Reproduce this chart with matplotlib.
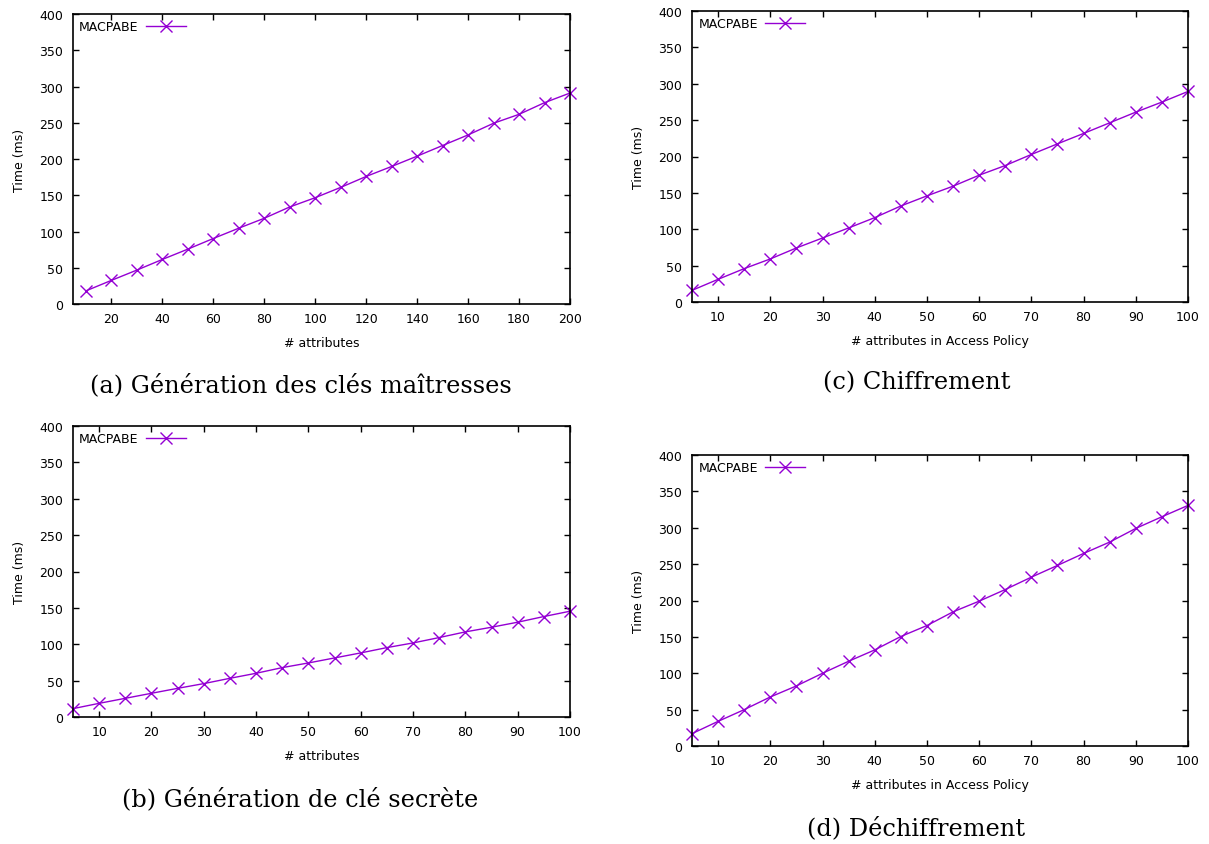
import matplotlib.pyplot as plt

# (a) master key generation
attrs_a = list(range(10, 201, 10))
time_a = [18, 32.5, 46.7, 61.4, 75.6, 90.3, 104.5, 118.2, 133.8, 146.6,
          160.8, 175.9, 189.7, 203.9, 218.6, 233.2, 249.3, 261.6, 277.7, 291]

# (b) secret key generation
attrs_b = list(range(5, 101, 5))
time_b = [11.5, 18.8, 25.7, 32.6, 39.4, 45.9, 53.2, 60.1, 67.9, 74.3,
          81.2, 88.1, 95.4, 101.8, 109.2, 117, 123.4, 130.3, 138.1, 145.4]

# (c) encryption
attrs_c = list(range(5, 101, 5))
time_c = [16, 31.2, 45.9, 59.2, 74.3, 88, 101.8, 116, 132, 145.9,
          159.2, 174.3, 187.6, 202.8, 217.4, 231.7, 246.3, 261, 274.8, 289.4]

# (d) decryption
attrs_d = list(range(5, 101, 5))
time_d = [17, 33.9, 50, 67.4, 82.6, 100, 116.5, 132.1, 150.5, 165.6,
          184.4, 199.1, 215.1, 232.1, 248.2, 264.7, 280.3, 299.1, 315.1, 330.7]

W, H = 1209, 845
COLOR = '#9400D3'

fig = plt.figure(figsize=(W / 100, H / 100), dpi=100)


def box(l, t, r, b):
    return [l / W, 1 - b / H, (r - l) / W, (b - t) / H]


panels = [
    (box(73, 15, 570, 305), attrs_a, time_a, (5, 200), range(20, 201, 20),
     '# attributes', '(a) Génération des clés maîtresses', (301, 385)),
    (box(73, 427, 570, 718), attrs_b, time_b, (5, 100), range(10, 101, 10),
     '# attributes', '(b) Génération de clé secrète', (300, 799)),
    (box(692, 12, 1188, 303), attrs_c, time_c, (5, 100), range(10, 101, 10),
     '# attributes in Access Policy', '(c) Chiffrement', (917, 383)),
    (box(692, 456, 1188, 747), attrs_d, time_d, (5, 100), range(10, 101, 10),
     '# attributes in Access Policy', '(d) Déchiffrement', (916, 828)),
]

for rect, xs, ys, xlim, xticks, xlabel, caption, cap_pos in panels:
    ax = fig.add_axes(rect)
    ax.plot(xs, ys, color=COLOR, lw=1, marker='x', ms=8.5, mew=1,
            label='MACPABE', clip_on=False)
    ax.set_xlim(*xlim)
    ax.set_ylim(0, 400)
    ax.set_xticks(list(xticks))
    ax.set_yticks(range(0, 401, 50))
    ax.tick_params(direction='in', length=4, width=1, top=True, right=True,
                   labelsize=9, colors='black')
    ax.tick_params(axis='y', pad=7)
    ax.tick_params(axis='x', pad=6)
    for s in ax.spines.values():
        s.set_linewidth(1.2)
    ax.set_xlabel(xlabel, fontsize=9, labelpad=8)
    ax.set_ylabel('Time (ms)', fontsize=9, labelpad=10)
    ax.legend(loc='upper left', frameon=False, markerfirst=False, fontsize=9,
              handlelength=3.2, borderaxespad=0.2, handletextpad=0.6,
              borderpad=0.3)
    fig.text(cap_pos[0] / W, 1 - cap_pos[1] / H, caption, ha='center',
             va='center', fontsize=17.3, family='DejaVu Serif')

fig.savefig('out.png', dpi=100)
